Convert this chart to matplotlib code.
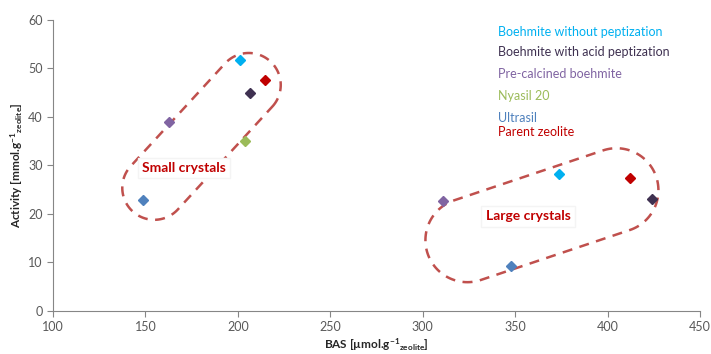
import numpy as np
import matplotlib
matplotlib.use("Agg")
import matplotlib.pyplot as plt

plt.rcParams['font.family'] = ['Lato', 'DejaVu Sans']
plt.rcParams['mathtext.fontset'] = 'custom'
plt.rcParams['mathtext.rm'] = 'Lato:bold'
plt.rcParams['mathtext.it'] = 'Lato:bold'
plt.rcParams['mathtext.bf'] = 'Lato:bold'

# series: (BAS, Activity) points for each support
series_names = ["Boehmite without peptization", "Boehmite with acid peptization",
                "Pre-calcined boehmite", "Nyasil 20", "Ultrasil", "Parent zeolite"]
series_colors = ["#00B0F0", "#3F3151", "#8064A2", "#9BBB59", "#4F81BD", "#C00000"]
bas_values = [[201, 374], [206.5, 424], [163, 311], [204], [148.5, 348], [214.5, 412]]
activity_values = [[51.7, 28.3], [45.0, 23.0], [38.9, 22.6], [35.0], [22.9, 9.3], [47.6, 27.5]]

# group outlines: end centres in data units, radius in pixels
groups = ["Small crystals", "Large crystals"]
group_ends = [[(154.8, 25.4), (205.9, 46.6)], [(324.2, 14.6), (404.8, 24.9)]]
group_radius = [32, 42]
group_label_pos = [(171, 29.5), (357, 19.5)]


def stadium(ax, c1, c2, r):
    p1 = ax.transData.transform(c1)
    p2 = ax.transData.transform(c2)
    d = (p2 - p1) / np.hypot(*(p2 - p1))
    ang = np.arctan2(d[1], d[0])
    t1 = np.linspace(ang - np.pi / 2, ang + np.pi / 2, 60)
    t2 = np.linspace(ang + np.pi / 2, ang + 3 * np.pi / 2, 60)
    a = np.column_stack([p2[0] + r * np.cos(t1), p2[1] + r * np.sin(t1)])
    b = np.column_stack([p1[0] + r * np.cos(t2), p1[1] + r * np.sin(t2)])
    pts = np.vstack([a, b, a[:1]])
    return ax.transData.inverted().transform(pts)


fig = plt.figure(figsize=(7.11, 3.54), dpi=100)
ax = fig.add_axes([0.0745, 0.1215, 0.910, 0.822])
ax.set_xlim(100, 450)
ax.set_ylim(0, 60)
ax.set_xticks(range(100, 451, 50))
ax.set_yticks(range(0, 61, 10))

for xs, ys, c in zip(bas_values, activity_values, series_colors):
    ax.plot(xs, ys, 'D', color=c, markersize=5.5, linestyle='none', zorder=3)

for ends, r, name, pos in zip(group_ends, group_radius, groups, group_label_pos):
    pts = stadium(ax, ends[0], ends[1], r)
    ax.plot(pts[:, 0], pts[:, 1], color="#C0504D", lw=1.8, dashes=(4, 3), zorder=2)
    ax.text(pos[0], pos[1], name, color="#C00000", fontsize=10, fontweight='bold',
            ha='center', va='center', zorder=4,
            bbox=dict(facecolor='white', edgecolor='#F4F4F4', pad=3))

legend_y = [57.5, 53.3, 48.8, 44.3, 39.8, 36.9]
for name, c, y in zip(series_names, series_colors, legend_y):
    ax.text(340.5, y, name, color=c, fontsize=9, ha='left', va='center')

for s in ['top', 'right']:
    ax.spines[s].set_visible(False)
for s in ['left', 'bottom']:
    ax.spines[s].set_color('#868686')
ax.tick_params(colors='#868686', labelcolor='#595959', labelsize=9, length=4)

ax.set_xlabel(r"BAS [µmol.g$^{-1}$$_{zeolite}$]", fontsize=8.5, fontweight='bold',
              color='#262626', labelpad=2)
ax.set_ylabel(r"Activity [mmol.g$^{-1}$$_{zeolite}$]", fontsize=8.5, fontweight='bold',
              color='#262626', labelpad=2)

fig.savefig("out.png", dpi=100)
